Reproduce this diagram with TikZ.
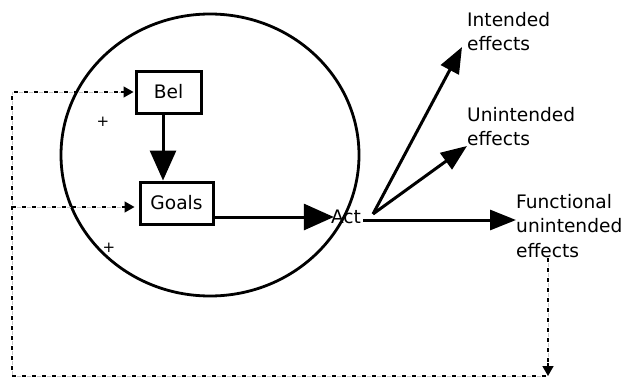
\documentclass[tikz,border=0pt]{standalone}
\usepackage{fontspec}
\setmainfont{DejaVu Sans}
\usetikzlibrary{arrows.meta}
\begin{document}
\begin{tikzpicture}[x=1pt,y=-1pt,
  box/.style={draw,line width=3pt,minimum height=42pt,inner sep=0pt,font=\fontsize{18.6}{24}\selectfont},
  lbl/.style={align=left,anchor=north west,inner sep=0pt,font=\fontsize{18.6}{24.5}\selectfont},
  big/.style={line width=3pt,-{Triangle[length=30pt,width=26pt]}},
  eff/.style={line width=3pt,-{Triangle[length=26pt,width=20pt]}},
  fb/.style={line width=2.2pt,dash pattern=on 4pt off 6pt},
  fbg/.style={line width=0.6pt,gray!45,dash pattern=on 4pt off 6pt,dash phase=5pt},
  fbtip/.style={-{Triangle[length=10pt,width=11pt]}},
  plus/.style={inner sep=0pt,font=\fontsize{15}{15}\selectfont}]
\useasboundingbox (0,0) rectangle (628,380);
% circle
\draw[line width=2.8pt] (210,155) ellipse [x radius=149pt, y radius=141pt];
% boxes
\node[box,minimum width=65pt] (bel) at (168.5,92) {Bel};
\node[box,minimum width=73pt] (goals) at (176.5,203) {Goals};
\node[inner sep=0pt,font=\fontsize{18.6}{24}\selectfont] (act) at (346,217) {Act};
\coordinate (ao) at (373,214);
% labels
\node[lbl] (int) at (467,12) {Intended\\effects};
\node[lbl] (unint) at (467,107) {Unintended\\effects};
\node[lbl] (func) at (516,194) {Functional\\unintended\\effects};
% main arrows
\coordinate (ab) at (163,0);
\draw[big] (bel.south -| ab) -- (goals.north -| ab);
\coordinate (ga) at (0,217);
\draw[big] (goals.east |- ga) -- ([xshift=3pt]act.west);
\coordinate (ti) at (462,47);
\coordinate (tu) at (467,146);
\draw[eff] (ao) -- (ti);
\draw[eff] (ao) -- (tu);
\draw[eff] ([xshift=2pt]act.east |- 0,220) -- (func.west |- 0,220);
% plus signs
\node[plus] (p1) at (103,122) {+};
\node[plus] (p2) at (109,248) {+};
% feedback
\coordinate (f0) at (548,268);
\coordinate (f1) at (548,362);
\coordinate (c1) at (546,376);
\coordinate (c2) at (12,376);
\coordinate (c3) at (12,92);
\coordinate (c4) at (12,207);
\coordinate (gi) at (0,207);
\foreach \s in {fbg,fb}{
  \draw[\s] (func.south -| f0) -- (f1);
  \draw[\s] (c1) -- (c2) -- (c3) -- ([xshift=-14pt]bel.west);
  \draw[\s] (c4) -- ([xshift=-16pt]goals.west |- gi);
}
\draw[fbtip,line width=1.5pt] ([yshift=-1pt]f1) -- (f1 |- c1);
\draw[fbtip,line width=1.5pt] ([xshift=-14pt]bel.west) -- ([xshift=-1pt]bel.west);
\draw[fbtip,line width=1.5pt] ([xshift=-16pt]goals.west |- gi) -- ([xshift=-4pt]goals.west |- gi);
\end{tikzpicture}
\end{document}
